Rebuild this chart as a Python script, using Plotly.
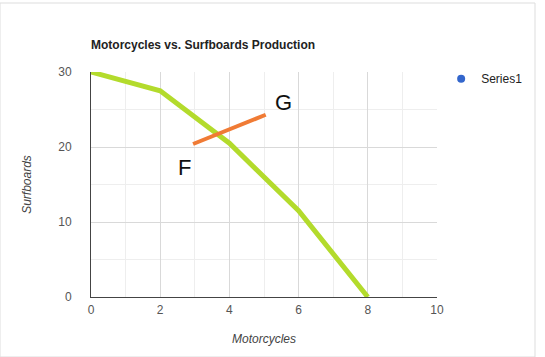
import plotly.graph_objects as go

motorcycles = [0, 2, 4, 6, 8]
surfboards = [30, 27.5, 20.5, 11.5, 0]
fg_x = [2.95, 5.05]
fg_y = [20.4, 24.3]
fg_labels = ["F", "G"]
label_x = [2.7, 5.55]
label_y = [17.3, 25.9]
series_name = "Series1"
title = "Motorcycles vs. Surfboards Production"

fig = go.Figure()
fig.add_trace(go.Scatter(x=motorcycles, y=surfboards, mode="lines",
                         line=dict(color="#b3db2c", width=5), showlegend=False,
                         hoverinfo="skip"))
fig.add_trace(go.Scatter(x=fg_x, y=fg_y, mode="lines",
                         line=dict(color="#f07b35", width=4), showlegend=False,
                         hoverinfo="skip"))
fig.add_trace(go.Scatter(x=[None], y=[None], mode="markers", name=series_name,
                         marker=dict(color="#3366cc", size=8)))

for t, lx, ly in zip(fg_labels, label_x, label_y):
    fig.add_annotation(x=lx, y=ly, text=t, showarrow=False,
                       font=dict(family="Liberation Sans, Arial", size=22, color="#111"))

fig.update_layout(
    width=545, height=357, autosize=False,
    margin=dict(l=91, r=108, t=72, b=60, autoexpand=False),
    paper_bgcolor="white", plot_bgcolor="white",
    font=dict(family="Liberation Sans, Arial", size=12, color="#555"),
    title=dict(text="<b>" + title + "</b>", x=91/545, xanchor="left",
               y=1-45/357, yanchor="middle",
               font=dict(size=12, color="#222")),
    legend=dict(x=1.012, y=0.97, xanchor="left", yanchor="middle",
                font=dict(size=12, color="#222"), bgcolor="rgba(0,0,0,0)"),
    shapes=[dict(type="rect", xref="paper", yref="paper",
                 x0=-91/346, x1=(535-91)/346, y0=-60/225, y1=(297-3)/225,
                 line=dict(color="#dddddd", width=1), layer="below")],
)
fig.update_xaxes(range=[0, 10], dtick=2, tick0=0, showgrid=True,
                 gridcolor="#d9d9d9", gridwidth=1,
                 minor=dict(dtick=1, showgrid=True, gridcolor="#eeeeee"),
                 showline=True, linecolor="#444", linewidth=1,
                 zeroline=False, ticks="", ticklabelstandoff=2,
                 title=dict(text="<i>Motorcycles</i>", font=dict(size=12, color="#444"),
                            standoff=18))
fig.update_yaxes(range=[0, 30], dtick=10, tick0=0, showgrid=True,
                 gridcolor="#d9d9d9", gridwidth=1,
                 minor=dict(dtick=5, showgrid=True, gridcolor="#eeeeee"),
                 showline=True, linecolor="#444", linewidth=1,
                 zeroline=False, ticks="", ticklabelstandoff=16,
                 title=dict(text="<i>Surfboards</i>", font=dict(size=12, color="#444"),
                            standoff=24))

fig.write_html("out.html", config={"displayModeBar": False},
               post_script="document.body.style.margin='0';")
